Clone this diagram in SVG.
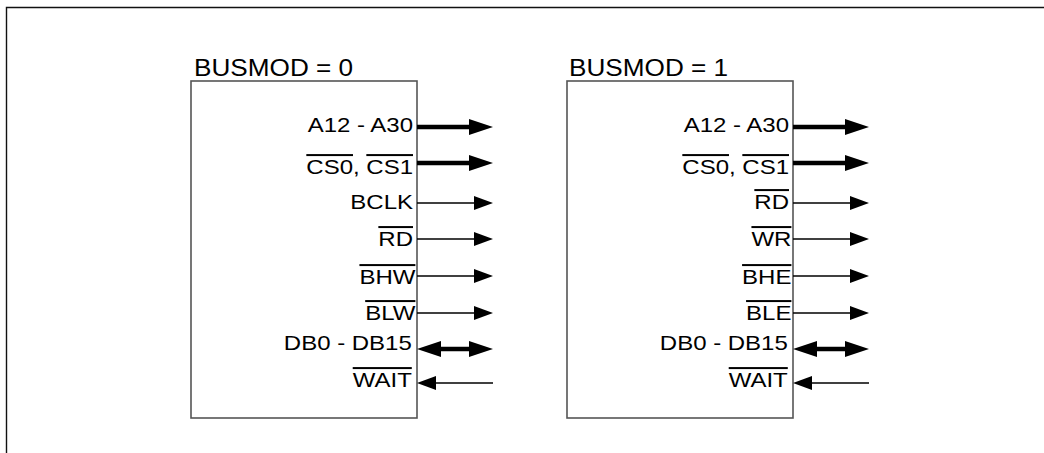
<svg xmlns="http://www.w3.org/2000/svg" width="1044" height="453" viewBox="0 0 1044 453">
<style>
text{font-family:"Liberation Sans",Arial,sans-serif;fill:#000}
.title{font-size:24px}
.sig{font-size:20px;text-anchor:end}
.ov{text-decoration:overline}
.box{fill:#fff;stroke:#555;stroke-width:1.6}
.thick{stroke:#000;stroke-width:4.5;fill:none}
.thin{stroke:#000;stroke-width:1.3;fill:none}
.head{fill:#000}
</style>
<rect width="1044" height="453" fill="#fff"/>
<path d="M6.5,453 V7.5 H1044" fill="none" stroke="#111" stroke-width="1.4"/>

<g id="node-busmod0">
<rect class="box" x="191" y="81" width="226" height="337"/>
<text class="title" x="194" y="76" transform="translate(194 76) scale(1.09 1) translate(-194 -76)">BUSMOD = 0</text>
<g transform="translate(413 0) scale(1.2 1) translate(-413 0)">
<text class="sig" x="413" y="132">A12 - A30</text>
<text class="sig" x="413" y="174"><tspan class="ov">CS0</tspan>, <tspan class="ov">CS1</tspan></text>
<text class="sig" x="413" y="209">BCLK</text>
<text class="sig" x="413" y="246"><tspan class="ov">RD</tspan></text>
<text class="sig" x="415" y="284"><tspan class="ov">BHW</tspan></text>
<text class="sig" x="415" y="320"><tspan class="ov">BLW</tspan></text>
<text class="sig" x="412" y="350">DB0 - DB15</text>
<text class="sig" x="412" y="387"><tspan class="ov">WAIT</tspan></text>
</g>
</g>

<g id="node-busmod1">
<rect class="box" x="567" y="81" width="226" height="337"/>
<text class="title" x="569" y="76" transform="translate(569 76) scale(1.09 1) translate(-569 -76)">BUSMOD = 1</text>
<g transform="translate(789 0) scale(1.2 1) translate(-789 0)">
<text class="sig" x="789" y="132">A12 - A30</text>
<text class="sig" x="789" y="174"><tspan class="ov">CS0</tspan>, <tspan class="ov">CS1</tspan></text>
<text class="sig" x="789" y="209"><tspan class="ov">RD</tspan></text>
<text class="sig" x="791" y="246"><tspan class="ov">WR</tspan></text>
<text class="sig" x="791" y="284"><tspan class="ov">BHE</tspan></text>
<text class="sig" x="791" y="320"><tspan class="ov">BLE</tspan></text>
<text class="sig" x="788" y="350">DB0 - DB15</text>
<text class="sig" x="788" y="387"><tspan class="ov">WAIT</tspan></text>
</g>
</g>

<g id="connectors">
<g id="conn-busmod0">
<line class="thick" x1="417" y1="127" x2="470" y2="127"/><polygon class="head" points="469,119 493,127 469,135"/>
<line class="thick" x1="417" y1="163" x2="470" y2="163"/><polygon class="head" points="469,155 493,163 469,171"/>
<line class="thin" x1="417" y1="203" x2="475" y2="203"/><polygon class="head" points="474,196 493,203 474,210"/>
<line class="thin" x1="417" y1="239" x2="475" y2="239"/><polygon class="head" points="474,232 493,239 474,246"/>
<line class="thin" x1="417" y1="276" x2="475" y2="276"/><polygon class="head" points="474,269 493,276 474,283"/>
<line class="thin" x1="417" y1="313" x2="475" y2="313"/><polygon class="head" points="474,306 493,313 474,320"/>
<line class="thick" x1="438" y1="349" x2="470" y2="349"/><polygon class="head" points="441,341 417,349 441,357"/><polygon class="head" points="469,341 493,349 469,357"/>
<line class="thin" x1="434" y1="383" x2="493" y2="383"/><polygon class="head" points="436,376 417,383 436,390"/>
</g>
<g id="conn-busmod1">
<line class="thick" x1="793" y1="127" x2="846" y2="127"/><polygon class="head" points="845,119 869,127 845,135"/>
<line class="thick" x1="793" y1="163" x2="846" y2="163"/><polygon class="head" points="845,155 869,163 845,171"/>
<line class="thin" x1="793" y1="203" x2="851" y2="203"/><polygon class="head" points="850,196 869,203 850,210"/>
<line class="thin" x1="793" y1="239" x2="851" y2="239"/><polygon class="head" points="850,232 869,239 850,246"/>
<line class="thin" x1="793" y1="276" x2="851" y2="276"/><polygon class="head" points="850,269 869,276 850,283"/>
<line class="thin" x1="793" y1="313" x2="851" y2="313"/><polygon class="head" points="850,306 869,313 850,320"/>
<line class="thick" x1="814" y1="349" x2="846" y2="349"/><polygon class="head" points="817,341 793,349 817,357"/><polygon class="head" points="845,341 869,349 845,357"/>
<line class="thin" x1="810" y1="383" x2="869" y2="383"/><polygon class="head" points="812,376 793,383 812,390"/>
</g>
</g>
</svg>
